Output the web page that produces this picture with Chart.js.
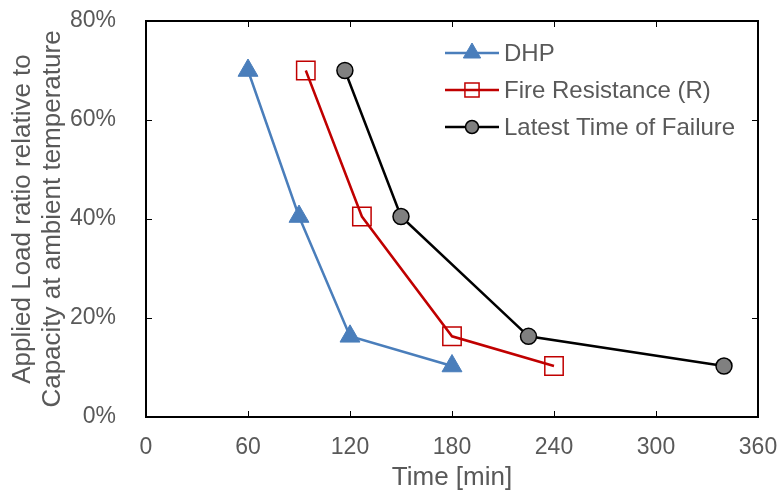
<!DOCTYPE html>
<html>
<head>
<meta charset="utf-8">
<script src="https://cdn.jsdelivr.net/npm/chart.js@4.4.1/dist/chart.umd.min.js"></script>
<style>
  html, body { margin: 0; padding: 0; background: #fff; }
  #wrap { width: 779px; height: 493px; }
</style>
</head>
<body>
<div id="wrap"><canvas id="chart" width="779" height="493"></canvas></div>
<script>
// data
const loadRatio = [0.70, 0.405, 0.163, 0.103];
const dhpTime = [60, 90, 120, 180];
const fireResTime = [94, 127, 180, 240];
const failureTime = [117, 150, 225, 340];
const xTicks = [0, 60, 120, 180, 240, 300, 360];
const yTicks = [0, 0.2, 0.4, 0.6, 0.8];

const textColor = '#595959';
const font = 'Liberation Sans, Arial, sans-serif';

function toPoints(xs, ys) {
    return xs.map((x, i) => ({ x: x, y: ys[i] }));
}

// inward tick marks on all four sides plus the box
const frameTicks = {
    id: 'frameTicks',
    afterDatasetsDraw(chart) {
        const { ctx, chartArea: a, scales } = chart;
        ctx.save();
        ctx.strokeStyle = '#000';
        ctx.lineWidth = 1;
        xTicks.forEach(v => {
            const px = Math.round(scales.x.getPixelForValue(v)) + 0.5;
            ctx.beginPath();
            ctx.moveTo(px, a.bottom); ctx.lineTo(px, a.bottom - 6);
            ctx.moveTo(px, a.top); ctx.lineTo(px, a.top + 6);
            ctx.stroke();
        });
        yTicks.forEach(v => {
            const py = Math.round(scales.y.getPixelForValue(v)) + 0.5;
            ctx.beginPath();
            ctx.moveTo(a.left, py); ctx.lineTo(a.left + 6, py);
            ctx.moveTo(a.right, py); ctx.lineTo(a.right - 6, py);
            ctx.stroke();
        });
        ctx.lineWidth = 2;
        ctx.strokeRect(a.left, a.top, a.right - a.left, a.bottom - a.top);
        ctx.restore();
    }
};

// legend drawn inside the plot area
const _drawPoint = Chart.helpers.drawPoint;
const innerLegend = {
    id: 'innerLegend',
    afterDraw(chart) {
        const ctx = chart.ctx;
        const x0 = 445, x1 = 499, y0 = 53, gap = 37;
        ctx.save();
        chart.data.datasets.forEach((ds, i) => {
            const y = y0 + i * gap;
            ctx.strokeStyle = ds.borderColor;
            ctx.lineWidth = ds.borderWidth;
            ctx.beginPath();
            ctx.moveTo(x0, y); ctx.lineTo(x1, y);
            ctx.stroke();
            ctx.fillStyle = ds.pointBackgroundColor;
            ctx.strokeStyle = ds.pointBorderColor;
            ctx.lineWidth = ds.pointBorderWidth;
            _drawPoint(ctx, {
                pointStyle: ds.pointStyle,
                rotation: 0,
                radius: ds.legendRadius,
                borderWidth: ds.pointBorderWidth
            }, (x0 + x1) / 2, y);
            ctx.fillStyle = textColor;
            ctx.font = '24px ' + font;
            ctx.textBaseline = 'middle';
            ctx.fillText(ds.label, 504, y + 1);
        });
        ctx.restore();
    }
};

new Chart(document.getElementById('chart').getContext('2d'), {
    type: 'line',
    data: {
        datasets: [{
            label: 'DHP',
            data: toPoints(dhpTime, loadRatio),
            borderColor: '#4A7EBB',
            backgroundColor: '#4A7EBB',
            pointBackgroundColor: '#4A7EBB',
            pointBorderColor: '#4A7EBB',
            pointBorderWidth: 1,
            borderWidth: 2.5,
            pointStyle: 'triangle',
            pointRadius: 11.5,
            legendRadius: 10
        }, {
            label: 'Fire Resistance (R)',
            data: toPoints(fireResTime, loadRatio),
            borderColor: '#C00000',
            backgroundColor: 'rgba(0,0,0,0)',
            pointBackgroundColor: 'rgba(0,0,0,0)',
            pointBorderColor: '#C00000',
            pointBorderWidth: 1.5,
            borderWidth: 2.5,
            pointStyle: 'rect',
            pointRadius: 13,
            legendRadius: 10
        }, {
            label: 'Latest Time of Failure',
            data: toPoints(failureTime, loadRatio),
            borderColor: '#000000',
            backgroundColor: '#808080',
            pointBackgroundColor: '#808080',
            pointBorderColor: '#000000',
            pointBorderWidth: 1.5,
            borderWidth: 2.5,
            pointStyle: 'circle',
            pointRadius: 8,
            legendRadius: 6.5
        }]
    },
    options: {
        responsive: false,
        animation: false,
        layout: { padding: { top: 21, right: 21, left: 0, bottom: 0 } },
        plugins: {
            legend: { display: false },
            tooltip: { enabled: false }
        },
        scales: {
            x: {
                type: 'linear',
                min: 0,
                max: 360,
                afterBuildTicks: s => { s.ticks = xTicks.map(v => ({ value: v })); },
                afterFit: s => { s.height = 76; s.paddingLeft = 0; s.paddingRight = 0; },
                grid: { display: false },
                border: { display: false },
                ticks: {
                    color: textColor,
                    font: { family: font, size: 23 },
                    padding: 9
                },
                title: {
                    display: true,
                    text: 'Time [min]',
                    color: textColor,
                    font: { family: font, size: 26 },
                    padding: { top: 0, bottom: 0 }
                }
            },
            y: {
                min: 0,
                max: 0.8,
                afterBuildTicks: s => { s.ticks = yTicks.map(v => ({ value: v })); },
                afterFit: s => { s.width = 146; s.paddingTop = 0; s.paddingBottom = 0; },
                grid: { display: false },
                border: { display: false },
                ticks: {
                    color: textColor,
                    font: { family: font, size: 23 },
                    padding: 22,
                    callback: v => Math.round(v * 100) + '%'
                },
                title: {
                    display: true,
                    text: ['Applied Load ratio relative to', 'Capacity at ambient temperature'],
                    color: textColor,
                    font: { family: font, size: 26, lineHeight: 1.15 },
                    padding: { top: 8, bottom: 0 }
                }
            }
        }
    },
    plugins: [frameTicks, innerLegend]
});
</script>
</body>
</html>
